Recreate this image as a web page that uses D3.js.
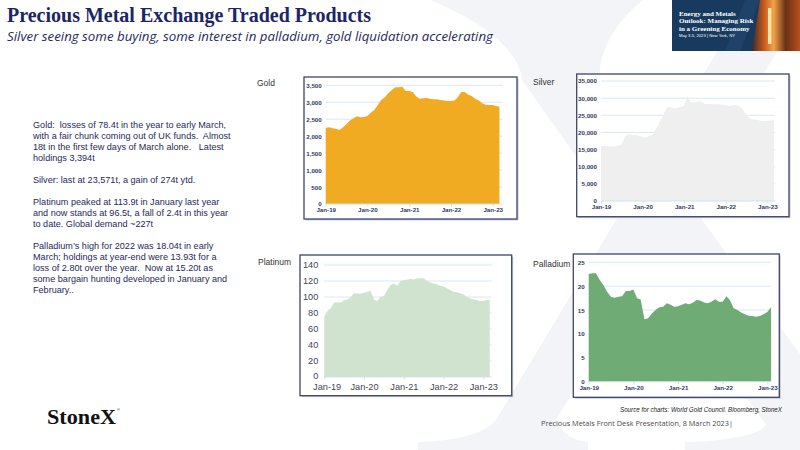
<!DOCTYPE html>
<html>
<head>
<meta charset="utf-8">
<script src="https://cdn.jsdelivr.net/npm/d3@7"></script>
<style>
  body { margin: 0; background: #fff; }
  svg { display: block; }
</style>
</head>
<body>
<script>
"use strict";

// monthly ETP holdings (tonnes), first point Jan-19
const goldValues = [2252, 2260, 2230, 2220, 2180, 2260, 2350, 2460, 2525, 2585,
	2555, 2565, 2595, 2695, 2770, 2920, 3070, 3145, 3265, 3360,
	3440, 3440, 3460, 3330, 3330, 3300, 3180, 3100, 3115, 3125,
	3105, 3085, 3085, 3070, 3050, 3040, 3040, 3050, 3145, 3305,
	3305, 3225, 3185, 3105, 3050, 2970, 2930, 2920, 2920, 2890, 2870];
const silverValues = [16040, 16000, 16000, 16000, 16000, 16130, 16500, 18950, 19500, 19350,
	19250, 19050, 18750, 18460, 18950, 19250, 21200, 23100, 25070, 27200,
	27400, 27000, 27200, 27400, 27800, 30700, 28700, 28800, 29000, 29000,
	28400, 28300, 28200, 28200, 28200, 28100, 28000, 27600, 27900, 28000,
	27600, 26700, 24900, 24100, 23800, 23700, 23400, 23300, 23400, 23400, 23700];
const platinumValues = [75.4, 83, 86, 93, 93, 93, 96, 97, 99.6, 104.6,
	104, 104, 105.4, 106.7, 107.5, 97, 95, 100.4, 101, 108.8,
	115, 117, 114, 120, 121, 122, 122.5, 122, 123, 123.3,
	123.3, 120.4, 118, 117, 116, 113.8, 113, 111, 108.8, 106.7,
	106, 104.6, 103.3, 100.4, 98.3, 97, 96.3, 95, 95, 96.3, 97];
const palladiumValues = [22.55, 22.7, 22.7, 21.3, 20.25, 18.85, 17.8, 17.6, 17.8, 17.9,
	19, 19, 19.3, 17.45, 17.2, 13.1, 13.3, 14.3, 15, 15.6,
	15.7, 16.4, 16.1, 15.7, 15.8, 16.1, 16.4, 16.2, 16.55, 17.1,
	17, 16.6, 16.4, 16.75, 17.25, 16.75, 16.75, 17.9, 17.1, 15.4,
	15, 14.5, 14.1, 13.8, 13.75, 13.6, 13.75, 14.1, 14.6, 15.6];

const xTickYears = [2019, 2020, 2021, 2022, 2023];

const titleText = "Precious Metal Exchange Traded Products";
const subtitleText = "Silver seeing some buying, some interest in palladium, gold liquidation accelerating";

const commentary = [
	["Gold:  losses of 78.4t in the year to early March,",
	 "with a fair chunk coming out of UK funds.  Almost",
	 "18t in the first few days of March alone.   Latest",
	 "holdings 3,394t"],
	["Silver: last at 23,571t, a gain of 274t ytd."],
	["Platinum peaked at 113.9t in January last year",
	 "and now stands at 96.5t, a fall of 2.4t in this year",
	 "to date. Global demand ~227t"],
	["Palladium\u2019s high for 2022 was 18.04t in early",
	 "March; holdings at year-end were 13.93t for a",
	 "loss of 2.80t over the year.  Now at 15.20t as",
	 "some bargain hunting developed in January and",
	 "February.."]
];

const bannerLines = ["Energy and Metals", "Outlook: Managing Risk", "in a Greening Economy"];
const bannerDate = "May 3-5, 2023 | New York, NY";

const sourceText = "Source for charts: World Gold Council. Bloomberg,  StoneX";
const footerText = "Precious Metals Front Desk Presentation, 8 March 2023|";

const navy = "#1c2566";
const start = new Date(2019, 0, 1);
const toSeries = vals => vals.map((v, i) => ({date: d3.timeMonth.offset(start, i), value: v}));

const svg = d3.select("body").append("svg")
	.attr("width", 800)
	.attr("height", 450);
const defs = svg.append("defs");

// faint StoneX "X" watermark behind everything
const wm = svg.append("g").attr("fill", "#f3f4f7");
wm.append("path").attr("d", "M430,0 L643,0 C612,25 598,55 600,80 L870,450 L685,450 L685,442 Q755,440 766,425 L522,80 C520,50 480,20 430,0 Z");
wm.append("path").attr("d", "M748,0 L808,0 L556,420 Q565,440 588,442 L588,450 L418,450 L418,442 Q480,440 496,420 Z");

// title + subtitle
svg.append("text")
	.attr("x", 7).attr("y", 22)
	.attr("font-family", "Liberation Serif, serif")
	.attr("font-weight", "bold")
	.attr("font-size", 20)
	.attr("fill", navy)
	.text(titleText);

svg.append("text")
	.attr("x", 7).attr("y", 41)
	.attr("font-family", "Open Sans, sans-serif")
	.attr("font-style", "italic")
	.attr("font-size", 13)
	.attr("textLength", 486)
	.attr("lengthAdjust", "spacingAndGlyphs")
	.attr("fill", "#1f2a5a")
	.text(subtitleText);

// conference banner, top right
const banner = svg.append("g");
const fire = defs.append("linearGradient").attr("id", "fire")
	.attr("x1", "0%").attr("x2", "100%").attr("y1", "0%").attr("y2", "0%");
fire.append("stop").attr("offset", "0%").attr("stop-color", "#3b2a2a");
fire.append("stop").attr("offset", "25%").attr("stop-color", "#c8581c");
fire.append("stop").attr("offset", "45%").attr("stop-color", "#f3a347");
fire.append("stop").attr("offset", "70%").attr("stop-color", "#6a3018");
fire.append("stop").attr("offset", "100%").attr("stop-color", "#b8501a");
banner.append("rect").attr("x", 672).attr("y", 0).attr("width", 128).attr("height", 51).attr("fill", "#173a5e");
banner.append("path").attr("d", "M745,0 L760,0 L740,51 L725,51 Z").attr("fill", "#1e4269");
banner.append("path").attr("d", "M760,0 L800,0 L800,51 L752,51 Z").attr("fill", "url(#fire)");
banner.append("rect").attr("x", 768).attr("y", 8).attr("width", 3.5).attr("height", 36).attr("fill", "#ffe4a6");
banner.selectAll("text.bl").data(bannerLines).join("text")
	.attr("class", "bl")
	.attr("x", 679)
	.attr("y", (d, i) => 15.5 + i * 7.5)
	.attr("font-family", "Liberation Serif, serif")
	.attr("font-weight", "bold")
	.attr("font-size", 7)
	.attr("fill", "#fff")
	.text(d => d);
banner.append("text")
	.attr("x", 679).attr("y", 37)
	.attr("font-family", "Liberation Sans, sans-serif")
	.attr("font-size", 4.2)
	.attr("fill", "#fff")
	.text(bannerDate);

// commentary block
let lineY = 128.3;
const body = svg.append("g")
	.attr("font-family", "Liberation Sans, Arial, sans-serif")
	.attr("font-size", 9.1)
	.attr("fill", "#1f2a5a");
commentary.forEach(par => {
	par.forEach(line => {
		body.append("text").attr("x", 33).attr("y", lineY).attr("xml:space", "preserve").text(line);
		lineY += 10.95;
	});
	lineY += 11;
});

// chart panels
const panels = [
	{name: "Gold", values: goldValues, max: 3500, step: 500, color: "#f0ab23",
	 label: [257, 86], frame: [304, 77, 517, 219], xr: [325.7, 492.7], yr: [204, 85.3],
	 gridRight: 502.7, small: true},
	{name: "Silver", values: silverValues, max: 35000, step: 5000, color: "#efefef",
	 label: [533, 85], frame: [576.7, 74, 789, 216.7], xr: [601, 767.3], yr: [201, 81],
	 gridRight: 775, small: true},
	{name: "Platinum", values: platinumValues, max: 140, step: 20, color: "#cfe3cf",
	 label: [258, 265], frame: [300, 255, 511.7, 395.7], xr: [324.3, 483.3], yr: [377, 265],
	 gridRight: 491.7, small: false},
	{name: "Palladium", values: palladiumValues, max: 25, step: 5, color: "#6fab75",
	 label: [533, 266.5], frame: [573.3, 254, 779.3, 397.3], xr: [588.7, 767.3], yr: [381.7, 262.3],
	 gridRight: 771.3, small: true}
];

function drawPanel(p) {
	const g = svg.append("g");
	const [fx0, fy0, fx1, fy1] = p.frame;

	g.append("text")
		.attr("x", p.label[0]).attr("y", p.label[1])
		.attr("font-family", "Liberation Sans, Arial, sans-serif")
		.attr("font-size", 8.5)
		.attr("fill", "#333")
		.text(p.name);

	g.append("rect")
		.attr("x", fx0 + 1.5).attr("y", fy0 + 1.5)
		.attr("width", fx1 - fx0).attr("height", fy1 - fy0)
		.attr("fill", "#c9ccd6");
	g.append("rect")
		.attr("x", fx0).attr("y", fy0)
		.attr("width", fx1 - fx0).attr("height", fy1 - fy0)
		.attr("fill", "#fff")
		.attr("stroke", "#3d4669")
		.attr("stroke-width", 1.3);

	const x = d3.scaleTime()
		.domain([new Date(2019, 0, 1), new Date(2023, 0, 1)])
		.range(p.xr);
	const y = d3.scaleLinear()
		.domain([0, p.max])
		.range(p.yr);
	const yTicks = d3.range(0, p.max + p.step / 2, p.step);

	g.append("g").selectAll("line")
		.data(yTicks.filter(d => d > 0))
		.join("line")
		.attr("x1", p.xr[0]).attr("x2", p.gridRight)
		.attr("y1", d => y(d)).attr("y2", d => y(d))
		.attr("stroke", "#d9e8f6")
		.attr("stroke-width", 1);

	const area = d3.area()
		.x(d => x(d.date))
		.y0(y(0))
		.y1(d => y(d.value));
	g.append("path")
		.datum(toSeries(p.values))
		.attr("d", area)
		.attr("fill", p.color);

	const fs = p.small ? 6.2 : 9.2;
	const fam = p.small ? "Liberation Sans Narrow, Liberation Sans, sans-serif" : "Liberation Sans, Arial, sans-serif";
	const tickColor = p.small ? "#2f3a63" : "#3f4656";

	const yAxis = g.append("g")
		.attr("transform", `translate(${p.xr[0]},0)`)
		.call(d3.axisLeft(y).tickValues(yTicks).tickSize(0).tickPadding(p.small ? 4 : 6)
			.tickFormat(d3.format(",")));
	yAxis.select(".domain").remove();
	yAxis.selectAll("text")
		.attr("font-family", fam)
		.attr("font-size", fs)
		.attr("font-weight", p.small ? "bold" : "normal")
		.attr("fill", tickColor);
	if (!p.small) yAxis.selectAll("text").filter(d => d === 0).attr("dy", "0.2em");

	const xAxis = g.append("g")
		.attr("transform", `translate(0,${p.yr[0]})`)
		.call(d3.axisBottom(x)
			.tickValues(xTickYears.map(yr => new Date(yr, 0, 1)))
			.tickSize(2.5).tickPadding(p.small ? 1.5 : 3.5)
			.tickFormat(d3.timeFormat("%b-%y")));
	xAxis.select(".domain")
		.attr("d", `M${p.xr[0]},0H${p.gridRight}`)
		.attr("stroke", "#cfe0f0");
	xAxis.selectAll("line").attr("stroke", "#cfe0f0");
	xAxis.selectAll("text")
		.attr("font-family", fam)
		.attr("font-size", fs)
		.attr("font-weight", p.small ? "bold" : "normal")
		.attr("fill", tickColor);
	if (!p.small) xAxis.selectAll("text").filter((d, i) => i === 0).attr("dx", "0.25em");
}

panels.forEach(drawPanel);

// footer
svg.append("text")
	.attr("x", 47).attr("y", 424)
	.attr("font-family", "Liberation Serif, serif")
	.attr("font-size", 21)
	.attr("font-weight", 600)
	.attr("textLength", 69)
	.attr("lengthAdjust", "spacingAndGlyphs")
	.attr("fill", "#111")
	.text("StoneX");
svg.append("text")
	.attr("x", 117).attr("y", 411)
	.attr("font-family", "Liberation Sans, sans-serif")
	.attr("font-size", 4)
	.attr("fill", "#111")
	.text("\u00ae");

svg.append("text")
	.attr("x", 782).attr("y", 412)
	.attr("text-anchor", "end")
	.attr("font-family", "Liberation Sans, Arial, sans-serif")
	.attr("font-style", "italic")
	.attr("font-size", 6.8)
	.attr("textLength", 162)
	.attr("lengthAdjust", "spacingAndGlyphs")
	.attr("fill", "#222")
	.text(sourceText);

svg.append("text")
	.attr("x", 541).attr("y", 426)
	.attr("font-family", "Open Sans, sans-serif")
	.attr("font-size", 7.6)
	.attr("textLength", 192)
	.attr("lengthAdjust", "spacingAndGlyphs")
	.attr("fill", "#4a4a4a")
	.text(footerText);
</script>
</body>
</html>
